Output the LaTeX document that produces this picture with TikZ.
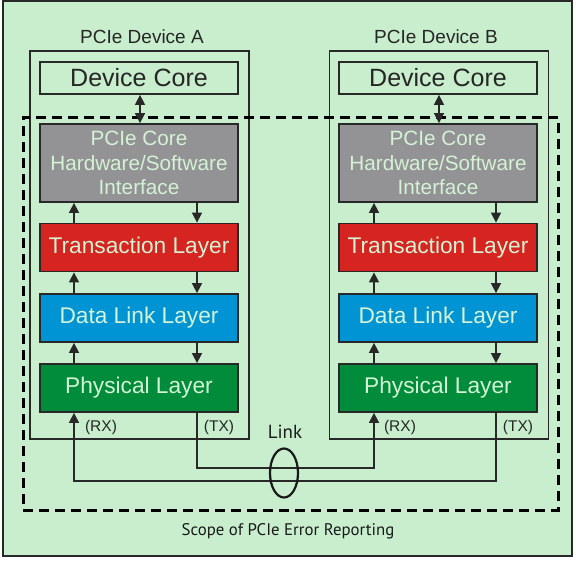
\documentclass[tikz,border=0pt]{standalone}
\usepackage{fontspec}
\setmainfont{Liberation Sans}
\newfontfamily\myriad{PT Sans}
\usetikzlibrary{arrows.meta,shapes.geometric}
\definecolor{bgg}{RGB}{200,238,206}
\definecolor{txtg}{RGB}{212,242,212}
\definecolor{boxgray}{RGB}{147,147,150}
\definecolor{boxred}{RGB}{214,36,32}
\definecolor{boxblue}{RGB}{0,148,212}
\definecolor{boxgreen}{RGB}{0,140,58}
\definecolor{edge}{RGB}{40,40,40}
\begin{document}
\begin{tikzpicture}[x=1pt,y=-1pt,
  frame/.style={draw=edge,line width=1.5pt,fill=bgg,inner sep=0pt},
  devbox/.style={draw=edge,line width=1.5pt,inner sep=0pt,minimum width=219pt,minimum height=388pt},
  corebox/.style={draw=edge,line width=1.8pt,inner sep=0pt,minimum width=198pt,minimum height=32pt,text=black!85,font=\fontsize{25}{29}\selectfont},
  ifbox/.style={draw=edge,line width=1.8pt,inner sep=0pt,minimum width=198pt,minimum height=78pt,fill=boxgray,text=txtg,align=center,font=\fontsize{20.7}{24.7}\selectfont},
  layerbox/.style={draw=edge,line width=1.8pt,inner sep=0pt,minimum width=198pt,minimum height=48pt,text=txtg,font=\fontsize{22.7}{27}\selectfont},
  title/.style={inner sep=0pt,text=black!85,font=\fontsize{19}{22}\selectfont},
  port/.style={inner sep=0pt,text=black!85,font=\fontsize{15.5}{18}\selectfont},
  arr/.style={draw=edge,line width=1.6pt,-{Triangle[length=10pt,width=10pt]}},
  darr/.style={draw=edge,line width=1.6pt,{Triangle[length=10pt,width=10pt]}-{Triangle[length=10pt,width=10pt]}},
  scopebox/.style={draw=black,line width=3pt,dash pattern=on 10pt off 6pt,inner sep=0pt,minimum width=535pt,minimum height=393pt}
]
\useasboundingbox (0,0) rectangle (576,560);
\fill[white] (0,0) rectangle (576,560);
\node[frame,minimum width=569pt,minimum height=555pt] (outer) at (287.5,278.5) {};

% device boxes
\node[devbox] (devA) at (139.5,245) {};
\node[devbox] (devB) at (439,245) {};
\node[title] (titleA) at (142,37) {PCIe Device A};
\node[title] (titleB) at (436,37) {PCIe Device B};

% scope
\node[scopebox] (scope) at (290.5,313.5) {};
\node[inner sep=0pt,font=\myriad\fontsize{16.8}{19}\selectfont,text=black!90] (scopelbl) at (288,531) {Scope of PCIe Error Reporting};

% device A stack
\node[corebox] (coreA) at (139,78) {Device Core};
\node[ifbox] (ifA) at (139,163) {PCIe Core\\Hardware/Software\\Interface};
\node[layerbox,fill=boxred] (trA) at (139,247.5) {Transaction Layer};
\node[layerbox,fill=boxblue] (dlA) at (139,318) {Data Link Layer};
\node[layerbox,fill=boxgreen] (phA) at (139,388) {Physical Layer};

% device B stack
\node[corebox] (coreB) at (438,78) {Device Core};
\node[ifbox] (ifB) at (438,163) {PCIe Core\\Hardware/Software\\Interface};
\node[layerbox,fill=boxred] (trB) at (438,247.5) {Transaction Layer};
\node[layerbox,fill=boxblue] (dlB) at (438,318) {Data Link Layer};
\node[layerbox,fill=boxgreen] (phB) at (438,388) {Physical Layer};

% x positions
\coordinate (upA) at (74,0);
\coordinate (dnA) at (197,0);
\coordinate (upB) at (374,0);
\coordinate (dnB) at (496,0);
\coordinate (midA) at (140,0);
\coordinate (midB) at (439,0);

% core arrows
\draw[darr] (coreA.south -| midA) -- (ifA.north -| midA);
\draw[darr] (coreB.south -| midB) -- (ifB.north -| midB);

% layer arrows A
\draw[arr] (trA.north -| upA) -- (ifA.south -| upA);
\draw[arr] (ifA.south -| dnA) -- (trA.north -| dnA);
\draw[arr] (dlA.north -| upA) -- (trA.south -| upA);
\draw[arr] (trA.south -| dnA) -- (dlA.north -| dnA);
\draw[arr] (phA.north -| upA) -- (dlA.south -| upA);
\draw[arr] (dlA.south -| dnA) -- (phA.north -| dnA);
% layer arrows B
\draw[arr] (trB.north -| upB) -- (ifB.south -| upB);
\draw[arr] (ifB.south -| dnB) -- (trB.north -| dnB);
\draw[arr] (dlB.north -| upB) -- (trB.south -| upB);
\draw[arr] (trB.south -| dnB) -- (dlB.north -| dnB);
\draw[arr] (phB.north -| upB) -- (dlB.south -| upB);
\draw[arr] (dlB.south -| dnB) -- (phB.north -| dnB);

% port labels
\node[port] (rxA) at (101,427) {(RX)};
\node[port] (txA) at (219,427) {(TX)};
\node[port] (rxB) at (400,427) {(RX)};
\node[port] (txB) at (518,427) {(TX)};

% link wires
\coordinate (yhi) at (0,468);
\coordinate (ylo) at (0,481);
\draw[arr] (phA.south -| dnA) -- (yhi -| dnA) -- (yhi -| upB) -- (phB.south -| upB);
\draw[arr] (phB.south -| dnB) -- (ylo -| dnB) -- (ylo -| upA) -- (phA.south -| upA);

% link ellipse
\node[ellipse,draw=black!90,line width=2.2pt,minimum width=28pt,minimum height=49pt,inner sep=0pt] (link) at (284,473) {};
\node[inner sep=0pt,font=\myriad\fontsize{19}{22}\selectfont,text=black!90] (linklbl) at (285,432) {Link};
\end{tikzpicture}
\end{document}
